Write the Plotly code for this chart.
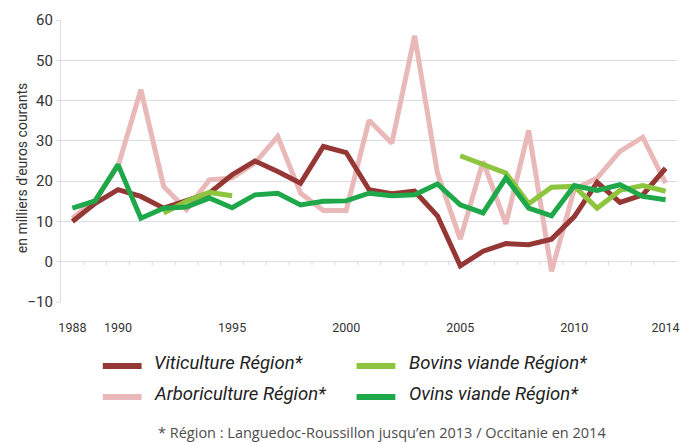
import plotly.graph_objects as go

years = list(range(1988, 2015))

viticulture = [10.0, 14.5, 17.9, 16.2, 13.3, 15.0, 17.0, 21.6, 25.0, 22.4, 19.5, 28.6, 27.1,
               17.9, 16.9, 17.5, 11.4, -1.0, 2.6, 4.5, 4.2, 5.6, 11.2, 19.7, 14.7, 16.6, 23.2]
arboriculture = [10.8, 15.4, 23.7, 42.7, 18.7, 12.9, 20.3, 20.8, 24.5, 31.1, 17.0, 12.7, 12.7,
                 35.1, 29.4, 56.1, 22.0, 5.6, 24.9, 9.4, 32.6, -2.4, 18.0, 20.8, 27.4, 30.9, 19.5]
bovins = [None, None, None, None, 12.1, 15.0, 17.2, 16.4, None, None, None, None, None,
          None, None, None, None, 26.3, 24.1, 22.0, 14.4, 18.5, 18.7, 13.3, 17.7, 18.9, 17.5]
ovins = [13.3, 15.1, 24.1, 10.8, 13.3, 13.6, 15.8, 13.4, 16.6, 17.0, 14.1, 15.0, 15.1,
         17.0, 16.4, 16.6, 19.3, 14.1, 12.1, 20.8, 13.3, 11.4, 18.9, 17.7, 19.1, 16.2, 15.4]

xtick_labels = [1988, 1990, 1995, 2000, 2005, 2010, 2014]
ytick_vals = list(range(-10, 61, 10))

names = {
    "vit": "Viticulture Région*",
    "arbo": "Arboriculture Région*",
    "bov": "Bovins viande Région*",
    "ovi": "Ovins viande Région*",
}
colors = {"vit": "#953735", "arbo": "#e8b9b8", "bov": "#8dc53f", "ovi": "#1ea84a"}
data = {"vit": viticulture, "arbo": arboriculture, "bov": bovins, "ovi": ovins}
draw_order = ["arbo", "vit", "bov", "ovi"]

GRID = "#dcdce8"
FONT = "Roboto, Liberation Sans, sans-serif"

fig = go.Figure()
for key in draw_order:
    fig.add_trace(go.Scatter(
        x=years, y=data[key], name=names[key], mode="lines",
        line=dict(color=colors[key], width=5),
        connectgaps=False, showlegend=False,
    ))

# plot area in pixels: x 61..680, y 20..302
L, T, W, H = 61, 20, 619, 282
def px(x):
    return (x - L) / W
def py(y):
    return (T + H - y) / H

shapes = []
# small category tick marks along the zero line
for i in range(len(years) - 1):
    shapes.append(dict(type="line", xref="x", yref="y",
                       x0=years[i] + 0.5, x1=years[i] + 0.5, y0=0, y1=-0.8,
                       line=dict(color=GRID, width=1.2), layer="below"))

annotations = []
# manual two-column legend
legend_layout = [("vit", 103, 152, 366), ("arbo", 103, 152, 397),
                 ("bov", 358, 409, 366), ("ovi", 358, 409, 397)]
for key, sx, tx, yy in legend_layout:
    shapes.append(dict(type="line", xref="paper", yref="paper",
                       x0=px(sx), x1=px(sx + 39), y0=py(yy), y1=py(yy),
                       line=dict(color=colors[key], width=6)))
    annotations.append(dict(text=names[key], xref="paper", yref="paper",
                            x=px(tx), y=py(yy - 3), xanchor="left", yanchor="middle",
                            showarrow=False,
                            font=dict(family=FONT, size=18.5, color="#222222", style="italic")))

annotations.append(dict(text="en milliers d'euros courants", xref="paper", yref="paper",
                        x=px(22), y=py(168), textangle=-90, showarrow=False,
                        xanchor="center", yanchor="middle",
                        font=dict(family=FONT, size=14, color="#333333")))
annotations.append(dict(text="* Région : Languedoc-Roussillon jusqu\u2019en 2013 / Occitanie en 2014",
                        xref="paper", yref="paper", x=px(384), y=py(432.5), showarrow=False,
                        xanchor="center", yanchor="middle",
                        font=dict(family="Open Sans, sans-serif", size=14.5, color="#4d4d4d")))

fig.update_layout(
    width=680, height=443,
    margin=dict(l=61, r=0, t=20, b=141),
    paper_bgcolor="white", plot_bgcolor="white",
    shapes=shapes, annotations=annotations,
    showlegend=False,
    xaxis=dict(range=[1987.5, 2014.5], tickvals=xtick_labels,
               ticktext=[str(v) for v in xtick_labels],
               showgrid=False, zeroline=False, showline=False, ticks="",
               ticklabelstandoff=16, ticklabeloverflow="allow",
               tickfont=dict(family=FONT, size=12.5, color="#333333")),
    yaxis=dict(range=[-10, 60], tickvals=ytick_vals,
               showgrid=True, gridcolor=GRID, gridwidth=1.2,
               zeroline=False, showline=True, linecolor=GRID, linewidth=1.2,
               ticks="outside", ticklen=4, tickcolor=GRID,
               tickfont=dict(family=FONT, size=15, color="#333333")),
)

fig.write_html("out.html", config={"displayModeBar": False},
               post_script="document.body.style.margin='0';document.body.style.overflow='hidden';")
